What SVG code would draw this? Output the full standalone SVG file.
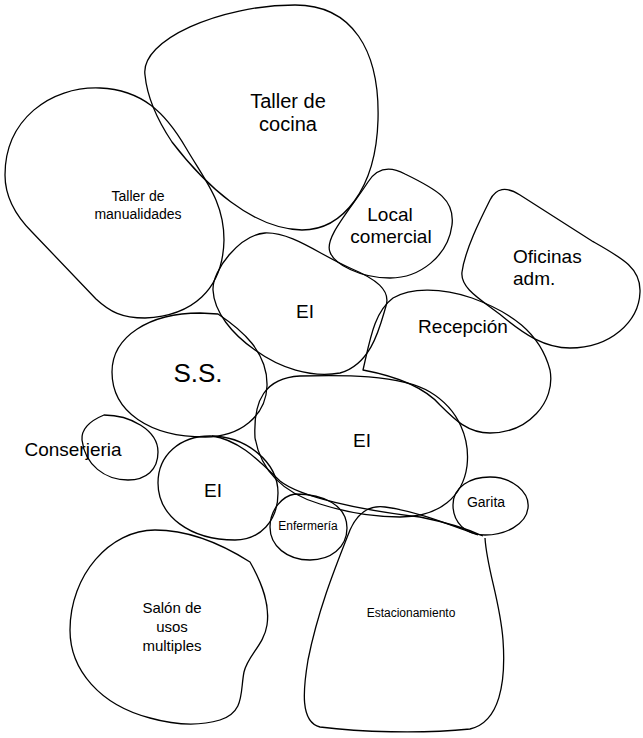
<svg xmlns="http://www.w3.org/2000/svg" width="643" height="738" viewBox="0 0 643 738">
<style>
.b{fill:none;stroke:#000;stroke-width:1.3;stroke-linejoin:round}
text{font-family:"Liberation Sans",Arial,sans-serif;fill:#000;text-anchor:middle}
</style>
<rect width="643" height="738" fill="#fff"/>
<g id="taller-cocina">
<path class="b" d="M145,75 C140,40 220,5 295,5 C352,5 380,50 378,120 C376,190 342,230 302,230 C252,229 205,185 172,142 C156,118 147,96 145,75 Z"/>
<text x="288" y="108" font-size="20">Taller de</text>
<text x="288" y="131" font-size="20">cocina</text>
</g>
<g id="taller-manualidades">
<path class="b" d="M5,175 C5,120 50,86 100,88 C142,90 165,112 186,148 C206,182 224,202 224,240 C223,290 192,316 145,318 C122,318 110,312 96,299 L32,232 C14,214 5,196 5,175 Z"/>
<text x="138" y="201" font-size="14">Taller de</text>
<text x="138" y="219" font-size="14">manualidades</text>
</g>
<g id="local-comercial">
<path class="b" d="M330,252 C324,238 350,210 368,182 C377,168 390,166 405,174 C438,190 455,200 452,225 C448,256 420,278 390,278 C360,278 334,264 330,252 Z"/>
<text x="390" y="221" font-size="19">Local</text>
<text x="391" y="243" font-size="19">comercial</text>
</g>
<g id="oficinas-adm">
<path class="b" d="M462,272 C465,250 480,220 490,200 C496,188 506,186 520,195 L592,241 C622,258 641,268 640,292 C639,322 610,348 570,348 C545,348 525,335 502,316 C480,299 460,288 462,272 Z"/>
<text x="513" y="263" font-size="19" style="text-anchor:start">Oficinas</text>
<text x="513" y="285" font-size="19" style="text-anchor:start">adm.</text>
</g>
<g id="recepcion">
<path class="b" d="M363,370 C370,340 374,312 393,298 C410,288 440,287 472,298 C510,312 540,332 550,370 C556,402 528,433 490,433 C468,433 455,420 440,405 C425,388 400,377 363,370 Z"/>
<text x="463" y="333" font-size="19">Recepción</text>
</g>
<g id="ei-superior">
<path class="b" d="M213,290 C212,270 240,235 265,233 C292,232 320,255 350,268 C376,279 391,290 386,306 C380,326 372,364 340,373 C310,378 280,368 255,350 C232,334 214,312 213,290 Z"/>
<text x="305" y="318" font-size="19">EI</text>
</g>
<g id="ss">
<path class="b" d="M112,372 C112,336 150,313 200,313 L218,314 C242,330 268,352 267,386 C266,416 240,437 205,437 C150,437 112,412 112,372 Z"/>
<text x="198" y="382" font-size="26">S.S.</text>
</g>
<g id="conserjeria">
<path class="b" d="M104,415 C130,415 158,430 158,452 C158,470 146,480 128,480 C105,480 85,465 82,440 C81,428 92,420 104,415 Z"/>
<text x="73" y="456" font-size="19">Conserjeria</text>
</g>
<g id="ei-central">
<path class="b" d="M255,438 C253,400 265,378 300,376 C340,375 400,374 430,392 C460,410 470,440 467,466 C463,496 440,517 400,517 C370,517 345,512 320,504 C290,495 262,476 255,438 Z"/>
<path class="b" d="M212,436 C240,440 260,462 280,481 C300,497 360,510 420,517 C445,522 465,528 483,536"/>
<text x="362" y="447" font-size="19">EI</text>
</g>
<g id="ei-inferior">
<path class="b" d="M158,483 C158,455 180,436 210,436 C246,436 278,462 278,493 C278,521 260,540 235,540 C190,540 158,516 158,483 Z"/>
<text x="213" y="497" font-size="19">EI</text>
</g>
<g id="enfermeria">
<path class="b" d="M295,494 C325,494 347,506 347,528 C347,548 330,560 310,560 C287,560 270,546 270,527 C270,510 282,496 295,494 Z"/>
<text x="308" y="530" font-size="12">Enfermería</text>
</g>
<g id="garita">
<path class="b" d="M453,505 C453,487 470,477 490,477 C512,477 530,492 528,508 C526,525 505,535 485,535 C465,535 453,522 453,505 Z"/>
<text x="486" y="507" font-size="14">Garita</text>
</g>
<g id="estacionamiento">
<path class="b" d="M485,538 C487,570 500,600 503,640 C506,682 500,722 470,729 C420,734 360,732 320,727 C300,722 303,690 308,660 C318,610 335,568 350,530 C358,512 370,505 385,507 C420,512 450,525 478,535"/>
<text x="411" y="617" font-size="12">Estacionamiento</text>
</g>
<g id="salon-usos-multiples">
<path class="b" d="M70,630 C70,575 110,530 155,530 C195,530 228,548 250,562 C263,585 270,605 267,625 C264,645 248,655 244,672 C240,692 245,712 220,720 C200,726 175,725 150,718 C100,705 70,670 70,630 Z"/>
<text x="172" y="613" font-size="15">Salón de</text>
<text x="172" y="632" font-size="15">usos</text>
<text x="172" y="651" font-size="15">multiples</text>
</g>
<g id="connectors"></g>
</svg>
